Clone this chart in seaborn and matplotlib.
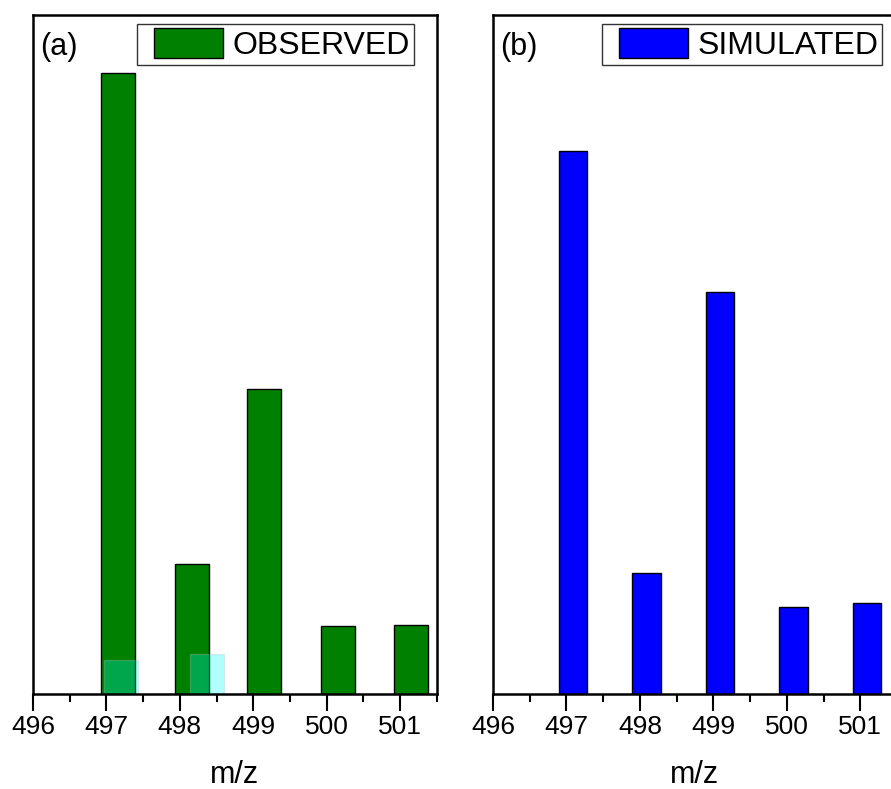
import numpy as np
import matplotlib
matplotlib.use('Agg')
import matplotlib.pyplot as plt
import seaborn as sns
from matplotlib.patches import Patch, Rectangle
from matplotlib.legend_handler import HandlerPatch
from matplotlib.ticker import MultipleLocator

# observed isotope pattern
obs_mz = [497.16, 498.16, 499.15, 500.15, 501.15]
obs_int = [91.5, 19.1, 44.9, 10.0, 10.2]

# small overlay peaks (light cyan)
ovl_mz = [497.2, 498.37]
ovl_int = [5.0, 5.9]

# simulated isotope pattern
sim_mz = [497.09, 498.09, 499.09, 500.09, 501.09]
sim_int = [80.0, 17.8, 59.2, 12.8, 13.4]

ticks = [496, 497, 498, 499, 500, 501]

sns.set_style('white')
plt.rcParams['font.family'] = ['Liberation Sans', 'DejaVu Sans']
plt.rcParams['text.color'] = 'black'
plt.rcParams['xtick.color'] = 'black'
plt.rcParams['axes.labelcolor'] = 'black'


# legend swatch pushed a little to the right, like the original software does
def shifted_box(legend, orig_handle, xdescent, ydescent, width, height, fontsize):
    off = 9.4
    return Rectangle((-xdescent + off, -ydescent), width - off, height)


fig = plt.figure(figsize=(8.91, 7.89), dpi=100)
ax1 = fig.add_axes([0.037, 0.1204, 0.4534, 0.8606])
ax2 = fig.add_axes([0.5533, 0.1204, 0.4534, 0.8606])

sns.barplot(x=obs_mz, y=obs_int, native_scale=True, width=0.47, color='#008000',
            saturation=1, edgecolor='black', linewidth=1, ax=ax1)
sns.barplot(x=ovl_mz, y=ovl_int, native_scale=True, width=0.39, color='cyan',
            saturation=1, alpha=0.3, edgecolor='#bbbbbb', linewidth=1, ax=ax1)
sns.barplot(x=sim_mz, y=sim_int, native_scale=True, width=0.39, color='#0000ff',
            saturation=1, edgecolor='black', linewidth=1, ax=ax2)

for ax, tag, lab, col, lx in [(ax1, '(a)', 'OBSERVED', '#008000', 0.257),
                              (ax2, '(b)', 'SIMULATED', '#0000ff', 0.27)]:
    ax.set_xlim(496, 501.5)
    ax.set_ylim(0, 100)
    ax.set_xticks(ticks)
    ax.set_xticklabels([str(t) for t in ticks], fontsize=19)
    ax.xaxis.set_minor_locator(MultipleLocator(0.5))
    ax.tick_params(axis='x', which='major', direction='out', length=12, width=1.5,
                   bottom=True, pad=3)
    ax.tick_params(axis='x', which='minor', direction='out', length=6, width=1.5,
                   bottom=True)
    ax.set_yticks([])
    ax.set_ylabel('')
    ax.set_xlabel('m/z', fontsize=22, labelpad=15)
    for s in ax.spines.values():
        s.set_visible(True)
        s.set_color('black')
        s.set_linewidth(1.8)
    ax.text(0.018, 0.975, tag, transform=ax.transAxes, fontsize=22,
            ha='left', va='top')
    h = Patch(facecolor=col, edgecolor='black', label=lab)
    leg = ax.legend(handles=[h], handler_map={Patch: HandlerPatch(patch_func=shifted_box)},
                    loc='upper left', bbox_to_anchor=(lx, 0.987), borderaxespad=0,
                    fontsize=23, handlelength=2.57, handleheight=1.1,
                    handletextpad=0.3, borderpad=0.12, fancybox=False,
                    frameon=True)
    leg.get_frame().set_edgecolor('black')
    leg.get_frame().set_linewidth(1)

fig.savefig('out.png', dpi=100)
